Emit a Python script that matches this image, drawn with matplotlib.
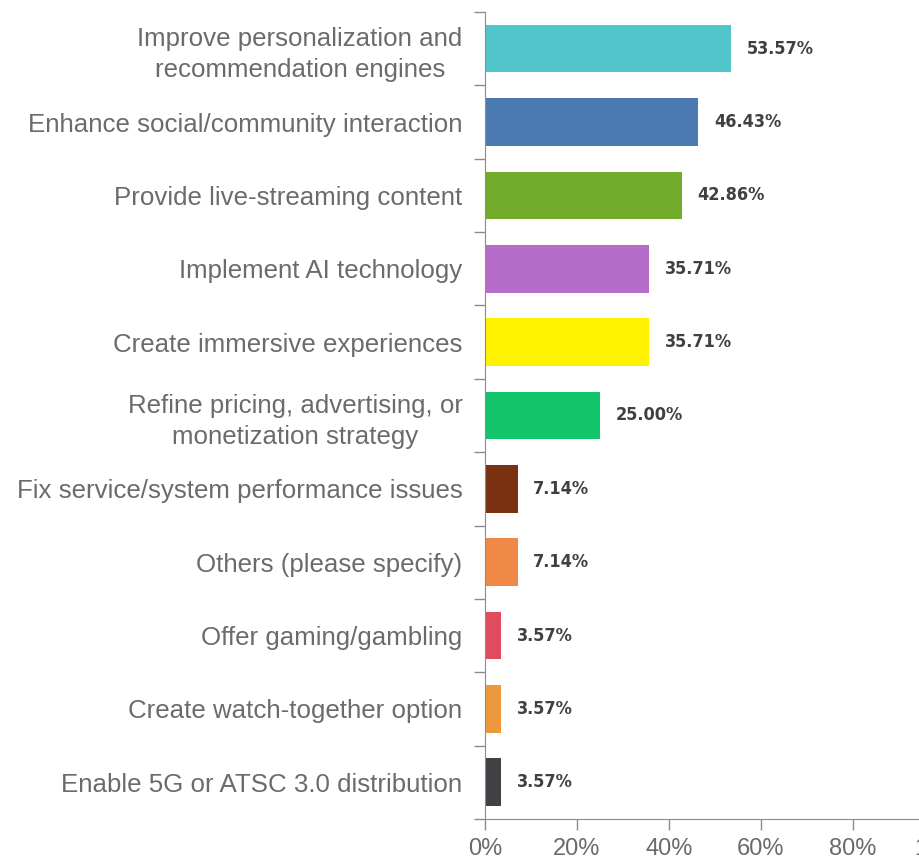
import matplotlib
matplotlib.use("Agg")
import matplotlib.pyplot as plt
import numpy as np

categories = [
    "Improve personalization and\nrecommendation engines",
    "Enhance social/community interaction",
    "Provide live-streaming content",
    "Implement AI technology",
    "Create immersive experiences",
    "Refine pricing, advertising, or\nmonetization strategy",
    "Fix service/system performance issues",
    "Others (please specify)",
    "Offer gaming/gambling",
    "Create watch-together option",
    "Enable 5G or ATSC 3.0 distribution",
]
shares = [53.57, 46.43, 42.86, 35.71, 35.71, 25.00, 7.14, 7.14, 3.57, 3.57, 3.57]
bar_colors = ["#52C5CB", "#4B79B1", "#73AB2A", "#B56DC9", "#FFF200", "#13C46A",
              "#7A3112", "#F08945", "#E04B5F", "#EE983D", "#404045"]
x_ticks = [0, 20, 40, 60, 80, 100]

LABEL_GREY = "#6B6B6B"
AXIS_GREY = "#8C8C8C"

fig = plt.figure(figsize=(9.2, 8.61), dpi=100)
ax = fig.add_axes([0.527, 0.0488, 0.5, 0.9373])

y = np.arange(len(categories))
ax.barh(y, shares, height=0.65, color=bar_colors)
ax.set_ylim(len(categories) - 0.5, -0.5)
ax.set_xlim(0, 100)

for yi, v in zip(y, shares):
    ax.text(v + 3.4, yi, f"{v:.2f}%", va="center", ha="left",
            fontsize=13, fontweight="bold", color="#404040",
            fontstretch="condensed", family=["DejaVu Sans"])

# category labels sit between boundary ticks
ax.set_yticks(y)
ax.set_yticklabels(categories, fontsize=18.6, color=LABEL_GREY,
                   family=["Liberation Sans", "DejaVu Sans"],
                   linespacing=1.38, multialignment="center")
ax.set_yticks(np.arange(len(categories) + 1) - 0.5, minor=True)
ax.tick_params(axis="y", which="major", length=0, pad=16)
ax.tick_params(axis="y", which="minor", length=8, color=AXIS_GREY, width=1)

ax.set_xticks(x_ticks)
ax.set_xticklabels([f"{t}%" for t in x_ticks], fontsize=17, color=LABEL_GREY,
                   family=["Liberation Sans", "DejaVu Sans"])
ax.tick_params(axis="x", length=8, color=AXIS_GREY, width=1, pad=6)

for side in ("top", "right"):
    ax.spines[side].set_visible(False)
for side in ("bottom", "left"):
    ax.spines[side].set_color(AXIS_GREY)

fig.savefig("out.png", dpi=100)
